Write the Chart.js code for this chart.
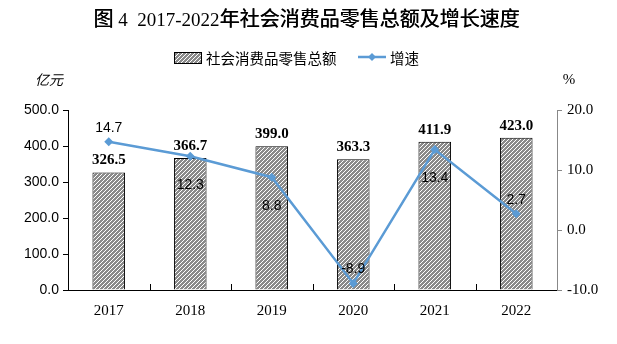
<!DOCTYPE html>
<html><head><meta charset="utf-8">
<script src="https://cdn.jsdelivr.net/npm/chart.js@4"></script>
<style>html,body{margin:0;padding:0;background:#fff;}#wrap{width:617px;height:344px;}</style>
</head><body><div id="wrap"><canvas id="c" width="617" height="344"></canvas></div>
<script>
const categories = ['2017','2018','2019','2020','2021','2022'];
const salesValues = [326.5, 366.7, 399.0, 363.3, 411.9, 423.0];
const growthValues = [14.7, 12.3, 8.8, -8.9, 13.4, 2.7];
const leftTicks = [0, 100, 200, 300, 400, 500];
const rightTicks = [-10, 0, 10, 20];
const growthLabelSide = ['above','below','below','above','below','above'];

const titleParts = [['图','cjk'],[' 4  2017-2022','lat'],['年社会消费品零售总额及增长速度','cjk']];
const barLegend = '社会消费品零售总额';
const lineLegend = '增速';
const SERIF = '"Liberation Serif","Times New Roman",serif';
const SANS = '"Liberation Sans",Arial,sans-serif';
const LINE_COLOR = '#5b9bd5';

function makePattern(){
  const p = document.createElement('canvas');
  p.width = 4; p.height = 4;
  const g = p.getContext('2d');
  g.fillStyle = '#8a8a8a'; g.fillRect(0,0,4,4);
  g.strokeStyle = '#ffffff'; g.lineWidth = 1;
  g.beginPath();
  g.moveTo(-1,5); g.lineTo(5,-1);
  g.moveTo(-1,1); g.lineTo(1,-1);
  g.moveTo(3,5); g.lineTo(5,3);
  g.stroke();
  return document.getElementById('c').getContext('2d').createPattern(p,'repeat');
}
const hatch = makePattern();

const decor = {
  id:'decor',
  afterDraw(chart){
    const ctx = chart.ctx;
    const x = chart.scales.x;
    ctx.save();
    // title drawn in segments (CJK sans, digits serif)
    ctx.fillStyle = '#000';
    ctx.textBaseline = 'alphabetic'; ctx.textAlign = 'left';
    const fonts = { cjk: '20px "Noto Sans CJK SC",sans-serif', lat: '19px ' + SERIF };
    let total = 0;
    titleParts.forEach(([t,k]) => { ctx.font = fonts[k]; total += ctx.measureText(t).width; });
    let tx = 306.5 - total / 2;
    titleParts.forEach(([t,k]) => {
      ctx.font = fonts[k];
      ctx.fillText(t, tx, 26);
      if (k === 'cjk') ctx.fillText(t, tx + 0.4, 26);
      tx += ctx.measureText(t).width;
    });
    // legend
    ctx.textBaseline = 'middle';
    ctx.fillStyle = hatch; ctx.fillRect(174,52,27,11);
    ctx.strokeStyle = '#000'; ctx.lineWidth = 1; ctx.strokeRect(174.5,52.5,27,11);
    ctx.fillStyle = '#000'; ctx.font = '14.5px "Noto Sans CJK SC",sans-serif';
    ctx.fillText(barLegend, 206, 58);
    ctx.strokeStyle = LINE_COLOR; ctx.lineWidth = 2.5;
    ctx.beginPath(); ctx.moveTo(358,57); ctx.lineTo(386,57); ctx.stroke();
    ctx.fillStyle = LINE_COLOR;
    ctx.beginPath(); ctx.moveTo(372,53); ctx.lineTo(376,57); ctx.lineTo(372,61); ctx.lineTo(368,57); ctx.closePath(); ctx.fill();
    ctx.fillStyle = '#000';
    ctx.fillText(lineLegend, 390, 58);
    // units
    ctx.font = 'italic 14px "Noto Sans CJK SC",sans-serif';
    ctx.textAlign = 'center';
    ctx.fillText('亿元', 49, 80);
    ctx.font = '15px ' + SERIF;
    ctx.fillText('%', 569, 80);
    // x-axis upward ticks between categories
    ctx.strokeStyle = '#000'; ctx.lineWidth = 1;
    const bottom = chart.chartArea.bottom;
    for (let i = 0; i < categories.length - 1; i++) {
      const px = Math.round((x.getPixelForValue(i) + x.getPixelForValue(i+1)) / 2) + 0.5;
      ctx.beginPath(); ctx.moveTo(px, bottom); ctx.lineTo(px, bottom - 6); ctx.stroke();
    }
    // bar value labels
    const barMeta = chart.getDatasetMeta(0);
    ctx.font = 'bold 15px ' + SERIF;
    barMeta.data.forEach((el, i) => {
      ctx.fillText(salesValues[i].toFixed(1), el.x, el.y - 12);
    });
    // line value labels
    const lineMeta = chart.getDatasetMeta(1);
    ctx.font = '14px ' + SANS;
    lineMeta.data.forEach((el, i) => {
      const dy = growthLabelSide[i] === 'above' ? -14 : 29;
      ctx.fillText(growthValues[i].toFixed(1), el.x, el.y + dy);
    });
    ctx.restore();
  }
};

new Chart(document.getElementById('c'), {
  data: {
    labels: categories,
    datasets: [
      { type:'bar', label: barLegend, data: salesValues, yAxisID:'y',
        backgroundColor: hatch, borderColor:'#000', borderWidth:1,
        barPercentage: 0.8, categoryPercentage: 0.5, order: 2 },
      { type:'line', label: lineLegend, data: growthValues, yAxisID:'y1',
        borderColor: LINE_COLOR, backgroundColor: LINE_COLOR, borderWidth: 2.5,
        pointStyle:'rectRot', pointRadius: 4.5, pointBackgroundColor: LINE_COLOR,
        pointBorderWidth: 0, tension: 0, order: 1 }
    ]
  },
  options: {
    responsive:false, animation:false, devicePixelRatio:1,
    layout:{ padding:{ top:110, bottom:0, left:0, right:0 } },
    plugins:{ legend:{display:false}, tooltip:{enabled:false}, title:{display:false} },
    scales:{
      x:{
        grid:{ display:false, drawTicks:false },
        border:{ display:true, color:'#000', width:1 },
        ticks:{ color:'#000', font:{ family: SERIF, size:15 }, padding:12 },
        afterFit(s){ s.height = 54; }
      },
      y:{
        position:'left', min:0, max:500,
        afterBuildTicks(s){ s.ticks = leftTicks.map(v => ({value:v})); },
        grid:{ drawOnChartArea:false, drawTicks:true, tickLength:5, color:'#000' },
        border:{ display:true, color:'#000', width:1 },
        ticks:{ color:'#000', font:{ family: SANS, size:14 }, padding:4, callback:v => v.toFixed(1) },
        afterFit(s){ s.width = 68; }
      },
      y1:{
        position:'right', min:-10, max:20,
        afterBuildTicks(s){ s.ticks = rightTicks.map(v => ({value:v})); },
        grid:{ drawOnChartArea:false, drawTicks:true, tickLength:5, color:'#888' },
        border:{ display:true, color:'#888', width:1 },
        ticks:{ color:'#000', font:{ family: SERIF, size:15 }, padding:5, callback:v => v.toFixed(1) },
        afterFit(s){ s.width = 60; }
      }
    }
  },
  plugins:[decor]
});
</script>
</body></html>
